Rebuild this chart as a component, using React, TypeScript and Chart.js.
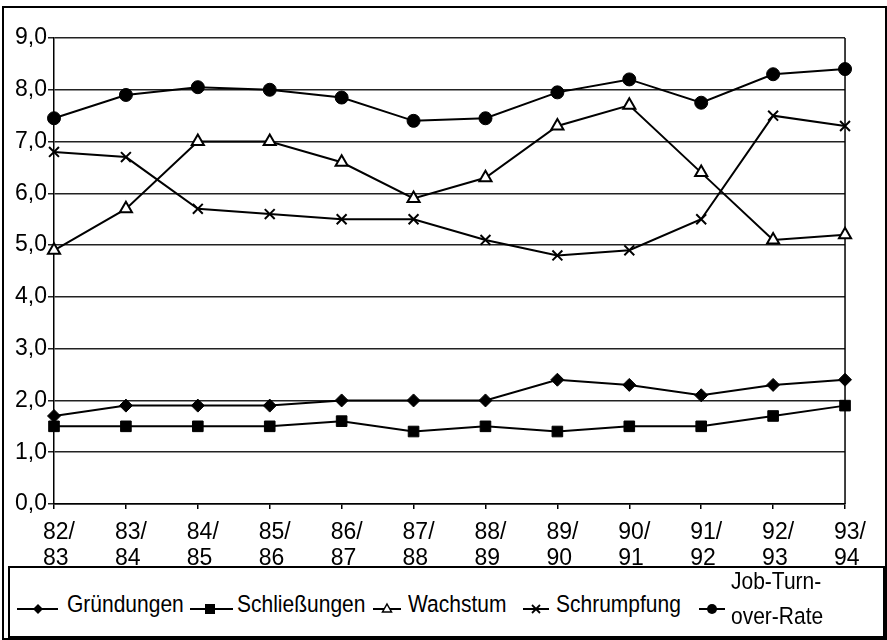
import React, { useEffect, useRef } from "react";
import { Chart, registerables } from "chart.js";

Chart.register(...registerables);

const periodLabels: string[][] = [
  ["82/", "83"], ["83/", "84"], ["84/", "85"], ["85/", "86"], ["86/", "87"], ["87/", "88"],
  ["88/", "89"], ["89/", "90"], ["90/", "91"], ["91/", "92"], ["92/", "93"], ["93/", "94"],
];
const yTickLabels = ["0,0", "1,0", "2,0", "3,0", "4,0", "5,0", "6,0", "7,0", "8,0", "9,0"];
const seriesNames = ["Gründungen", "Schließungen", "Wachstum", "Schrumpfung", "Job-Turn-over-Rate"];

const gruendungen = [1.7, 1.9, 1.9, 1.9, 2.0, 2.0, 2.0, 2.4, 2.3, 2.1, 2.3, 2.4];
const schliessungen = [1.5, 1.5, 1.5, 1.5, 1.6, 1.4, 1.5, 1.4, 1.5, 1.5, 1.7, 1.9];
const wachstum = [4.9, 5.7, 7.0, 7.0, 6.6, 5.9, 6.3, 7.3, 7.7, 6.4, 5.1, 5.2];
const schrumpfung = [6.8, 6.7, 5.7, 5.6, 5.5, 5.5, 5.1, 4.8, 4.9, 5.5, 7.5, 7.3];
const jobTurnover = [7.45, 7.9, 8.05, 8.0, 7.85, 7.4, 7.45, 7.95, 8.2, 7.75, 8.3, 8.4];

const FONT = "'Liberation Sans', Arial, Helvetica, sans-serif";

function ds(label: string, data: number[], pointStyle: string, radius: number, fill: string, bw: number) {
  return {
    label,
    data,
    borderColor: "#000",
    borderWidth: 2,
    tension: 0,
    fill: false,
    pointStyle,
    pointRadius: radius,
    pointHoverRadius: radius,
    pointBackgroundColor: fill,
    pointBorderColor: "#000",
    pointBorderWidth: bw,
  };
}

const legendText: React.CSSProperties = {
  position: "absolute",
  fontFamily: FONT,
  fontSize: 21,
  color: "#000",
  whiteSpace: "nowrap",
  transform: "scaleY(1.1)",
  transformOrigin: "left center",
};

export default function App() {
  const ref = useRef<HTMLCanvasElement>(null);

  useEffect(() => {
    const frame = {
      id: "plotFrame",
      beforeDatasetsDraw(chart: any) {
        const { ctx, chartArea: a } = chart;
        ctx.save();
        ctx.strokeStyle = "#000";
        ctx.lineWidth = 1.5;
        ctx.beginPath();
        ctx.moveTo(a.right, a.top);
        ctx.lineTo(a.right, a.bottom);
        ctx.stroke();
        ctx.restore();
      },
    };
    const chart = new Chart(ref.current!, {
      type: "line",
      data: {
        labels: periodLabels,
        datasets: [
          ds(seriesNames[0], gruendungen, "rectRot", 6.5, "#000", 1),
          ds(seriesNames[1], schliessungen, "rect", 7.5, "#000", 1),
          ds(seriesNames[2], wachstum, "triangle", 7, "#fff", 2),
          ds(seriesNames[3], schrumpfung, "crossRot", 7, "#000", 2),
          ds(seriesNames[4], jobTurnover, "circle", 6.5, "#000", 1),
        ] as any,
      },
      options: {
        responsive: false,
        animation: false,
        devicePixelRatio: 1,
        layout: { padding: { left: 0, right: 33, top: 38, bottom: 0 } },
        plugins: { legend: { display: false }, tooltip: { enabled: false } },
        scales: {
          x: {
            offset: false,
            afterFit: (s: any) => { s.height = 62; },
            grid: { display: true, drawOnChartArea: false, drawTicks: true, tickLength: 5, color: "#000", lineWidth: 1.5 },
            border: { display: true, color: "#000", width: 1.5 },
            ticks: {
              color: "#000",
              font: { family: FONT, size: 23, lineHeight: 1.15 },
              padding: 10,
              maxRotation: 0,
              autoSkip: false,
              align: "start",
              labelOffset: -11,
            },
          },
          y: {
            min: 0,
            max: 9,
            afterFit: (s: any) => { s.width = 54; },
            grid: { color: "#222", lineWidth: 1.5, tickLength: 6, drawTicks: true },
            border: { display: true, color: "#000", width: 1.5 },
            ticks: {
              stepSize: 1,
              color: "#000",
              font: { family: FONT, size: 23 },
              padding: 1,
              callback: (v: any) => yTickLabels[Math.round(Number(v))],
            },
          },
        },
      } as any,
      plugins: [frame],
    });
    return () => chart.destroy();
  }, []);

  const symY = 609;
  return (
    <div style={{ position: "fixed", left: 0, top: 0, width: 887, height: 640, background: "#fff", overflow: "hidden" }}>
      <canvas ref={ref} width={887} height={566} style={{ position: "absolute", left: 0, top: 0, width: 887, height: 566 }} />
      <div style={{ position: "absolute", left: 2, top: 6, width: 885, height: 634, border: "2px solid #000", boxSizing: "border-box" }} />
      <div style={{ position: "absolute", left: 8, top: 566, width: 877, height: 72, border: "2px solid #000", boxSizing: "border-box", background: "#fff" }} />
      <svg width={887} height={640} style={{ position: "absolute", left: 0, top: 0 }}>
        <g stroke="#000" strokeWidth={2} fill="none">
          <line x1={17} y1={symY} x2={58} y2={symY} />
          <line x1={190} y1={symY} x2={233} y2={symY} />
          <line x1={373} y1={symY} x2={401} y2={symY} />
          <line x1={523} y1={symY} x2={549} y2={symY} />
          <line x1={699} y1={symY} x2={725} y2={symY} />
        </g>
        <polygon points={`38,${symY - 5} 43,${symY} 38,${symY + 5} 33,${symY}`} fill="#000" />
        <rect x={205} y={symY - 5} width={10} height={10} fill="#000" />
        <polygon points={`387,${symY - 5} 391.5,${symY + 3} 382.5,${symY + 3}`} fill="#fff" stroke="#000" strokeWidth={1.5} />
        <g stroke="#000" strokeWidth={1.8}>
          <line x1={532} y1={symY - 4} x2={540} y2={symY + 4} />
          <line x1={532} y1={symY + 4} x2={540} y2={symY - 4} />
        </g>
        <circle cx={712} cy={symY} r={5} fill="#000" />
      </svg>
      <span style={{ ...legendText, left: 67, top: 593, lineHeight: "21px" }}>{seriesNames[0]}</span>
      <span style={{ ...legendText, left: 237, top: 593, lineHeight: "21px" }}>{seriesNames[1]}</span>
      <span style={{ ...legendText, left: 408, top: 593, lineHeight: "21px" }}>{seriesNames[2]}</span>
      <span style={{ ...legendText, left: 556, top: 593, lineHeight: "21px" }}>{seriesNames[3]}</span>
      <span style={{ ...legendText, left: 731, top: 567, lineHeight: "32px" }}>
        Job-Turn-
        <br />
        over-Rate
      </span>
    </div>
  );
}
